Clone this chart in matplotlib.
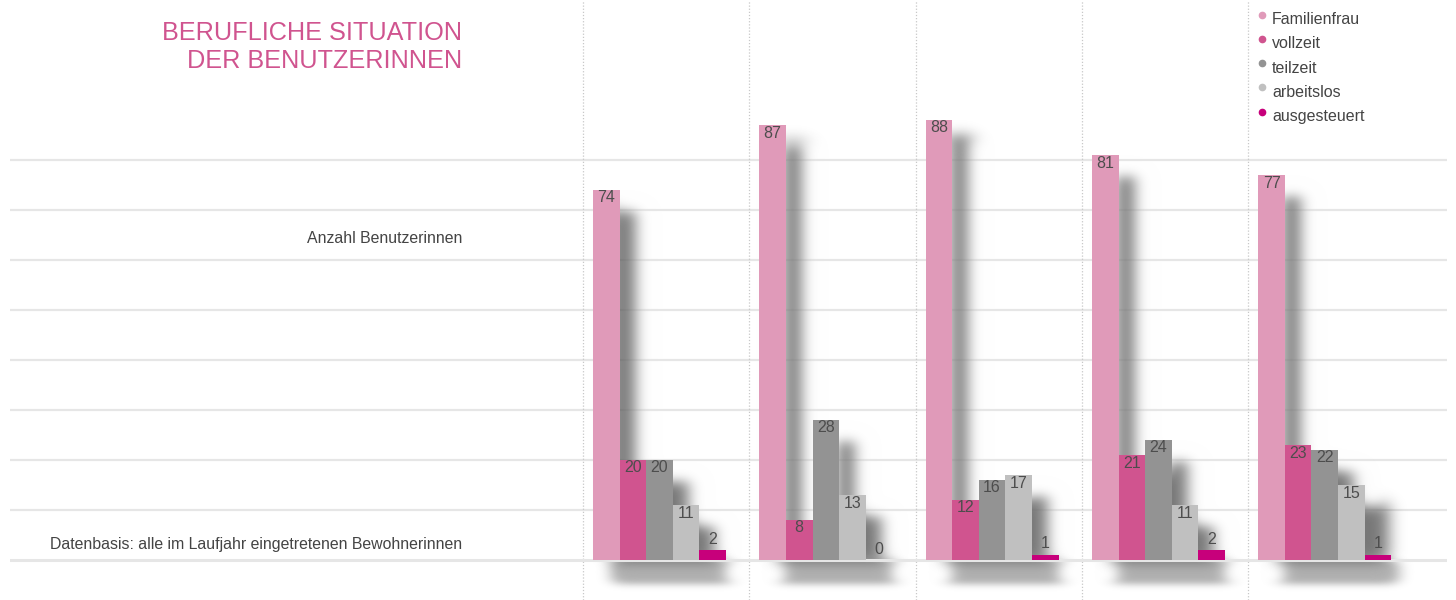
import numpy as np
import matplotlib
matplotlib.use("Agg")
import matplotlib.pyplot as plt
from matplotlib.patches import Rectangle
from matplotlib.collections import PatchCollection

plt.rcParams['font.family'] = ['Liberation Sans', 'DejaVu Sans']

# ---- data ----
groups = ["Jahr 1", "Jahr 2", "Jahr 3", "Jahr 4", "Jahr 5"]
series = ["Familienfrau", "vollzeit", "teilzeit", "arbeitslos", "ausgesteuert"]
familienfrau = [74, 87, 88, 81, 77]
vollzeit = [20, 8, 12, 21, 23]
teilzeit = [20, 28, 16, 24, 22]
arbeitslos = [11, 13, 17, 11, 15]
ausgesteuert = [2, 0, 1, 2, 1]
values = [familienfrau, vollzeit, teilzeit, arbeitslos, ausgesteuert]
colors = ["#e09ab9", "#d0548f", "#939393", "#c0c0c0", "#c7007b"]

title = "BERUFLICHE SITUATION\nDER BENUTZERINNEN"
ylabel = "Anzahl Benutzerinnen"
note = "Datenbasis: alle im Laufjahr eingetretenen Bewohnerinnen"

W, H = 1456, 600
fig = plt.figure(figsize=(W / 100, H / 100), dpi=100)
fig.patch.set_facecolor("white")

# axes spanning pixel x 10..1447, y 0..600
ax = fig.add_axes([10 / W, 0, (1447 - 10) / W, 1])
ax.set_axis_off()
slot_px = 166.3
px_per_unit_y = 5.0
x_left = -0.5 - (583 - 10) / slot_px
x_right = len(groups) - 0.5 + (1447 - (583 + slot_px * len(groups))) / slot_px
ax.set_xlim(x_left, x_right)
ax.set_ylim(-(H - 560) / px_per_unit_y, 560 / px_per_unit_y)


def blur_filter(sx, sy):
    def f(im, dpi):
        pad = int(3 * max(sx, sy)) + 1
        h, w, c = im.shape
        p = np.zeros((h + 2 * pad, w + 2 * pad, c), dtype=im.dtype)
        p[pad:pad + h, pad:pad + w] = im
        r = np.arange(-pad, pad + 1)
        ky = np.exp(-0.5 * (r / sy) ** 2); ky /= ky.sum()
        kx = np.exp(-0.5 * (r / sx) ** 2); kx /= kx.sum()
        out = np.zeros_like(p)
        pp = np.pad(p, ((pad, pad), (0, 0), (0, 0)))
        for i, kv in enumerate(ky):
            out += kv * pp[i:i + p.shape[0]]
        out2 = np.zeros_like(out)
        pp = np.pad(out, ((0, 0), (pad, pad), (0, 0)))
        for i, kv in enumerate(kx):
            out2 += kv * pp[:, i:i + out.shape[1]]
        return out2, -pad, -pad
    return f


# gridlines
for gy in range(10, 90, 10):
    ax.axhline(gy, color="#e6e6e6", lw=1.6, zorder=0)
ax.axhline(0, color="#e6e6e6", lw=2.2, zorder=2)

# vertical dotted separators
for i in range(len(groups)):
    ax.axvline(i - 0.5, color="#c8c8c8", lw=0.9, ls=(0, (1, 1.5)), zorder=0)

bar_w = 0.16
start_off = -0.5 + 10 / slot_px
n = len(series)
idx = np.arange(len(groups))

# shadows
shadow_dx = 20 / slot_px
shadow_dy = 18 / px_per_unit_y
shadow_patches = []
for j in range(n):
    for i in idx:
        v = values[j][i]
        x0 = i + start_off + j * bar_w + shadow_dx
        h = max(v - shadow_dy, 0)
        if h > 0:
            shadow_patches.append(Rectangle((x0, 0), bar_w, h))
pc = PatchCollection(shadow_patches, facecolor="#686868", edgecolor="none",
                     alpha=0.9, zorder=1)
pc.set_agg_filter(blur_filter(9, 7))
pc.set_rasterized(True)
ax.add_collection(pc)

# blurred label shadows below the baseline
label_patches = []
for i in idx:
    x0 = i + start_off + 22 / slot_px
    label_patches.append(Rectangle((x0, -4.4), n * bar_w - 18 / slot_px, 4.0))
pc2 = PatchCollection(label_patches, facecolor="#7c7c7c", edgecolor="none",
                      alpha=0.6, zorder=1)
pc2.set_agg_filter(blur_filter(8, 4))
pc2.set_rasterized(True)
ax.add_collection(pc2)

# bars
for j in range(n):
    xs = idx + start_off + j * bar_w + bar_w / 2
    ax.bar(xs, values[j], width=bar_w, color=colors[j], zorder=3, linewidth=0)
    for x, v in zip(xs, values[j]):
        if v >= 5:
            ax.text(x, v - 0.1, str(v), ha="center", va="top", fontsize=11.5,
                    color="#4d4d4d", zorder=4)
        else:
            ax.text(x, v + 0.7, str(v), ha="center", va="bottom", fontsize=11.5,
                    color="#4d4d4d", zorder=4)

# texts on the left
fig.text(462 / W, 1 - 47 / H, title, ha="right", va="center", fontsize=18.2,
         color="#d0548f", linespacing=1.2)
fig.text(462 / W, 1 - 238 / H, ylabel, ha="right", va="center", fontsize=11.4,
         color="#444444")
fig.text(462 / W, 1 - 545 / H, note, ha="right", va="center", fontsize=11.4,
         color="#444444")

# legend (manual)
for j, (name, c) in enumerate(zip(series, colors)):
    yc = 19.5 + j * 24.3
    fig.text(1272 / W, 1 - yc / H, name, ha="left", va="center", fontsize=11.5,
             color="#444444")
    fig.add_artist(plt.Line2D([1262 / W], [1 - (yc - 5) / H], marker="o",
                              markersize=4.5, color=c, linestyle="none",
                              transform=fig.transFigure))

fig.savefig("out.png", dpi=100, facecolor="white")
